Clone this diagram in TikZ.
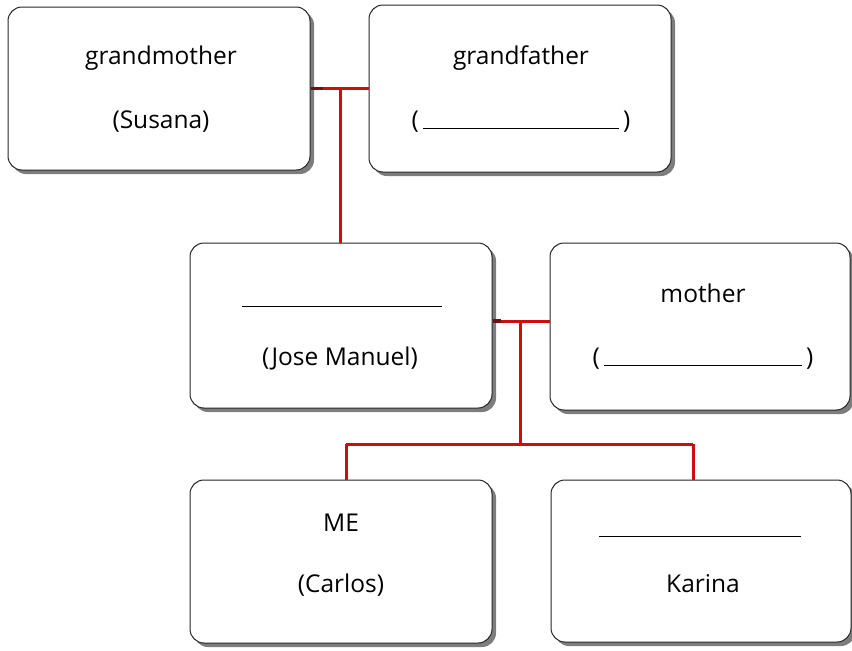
\documentclass[tikz,border=0pt]{standalone}
\usepackage{fontspec}
\setmainfont{Open Sans}
\usetikzlibrary{shadows}
\definecolor{linkred}{RGB}{208,12,12}
\definecolor{stubred}{RGB}{115,15,15}
\tikzset{
  famBox/.style={draw=black!85, line width=1pt, rounded corners=14pt, fill=white,
    inner sep=0pt, align=center,
    drop shadow={shadow xshift=4pt, shadow yshift=-4pt, opacity=0.6, fill=black!85}},
  famText/.style={font=\fontsize{24.5}{28}\selectfont, inner sep=0pt, anchor=base},
  link/.style={draw=linkred, line width=3pt},
  stub/.style={draw=stubred, line width=3.5pt},
}
\newcommand{\blankline}[1]{\rule[-1pt]{#1}{1.3pt}}
\begin{document}
\begin{tikzpicture}[x=1pt,y=-1pt]
\useasboundingbox (0,0) rectangle (852,651);
% boxes
\node[famBox, minimum width=302pt, minimum height=163pt] (gm) at (159,88.5) {};
\node[famBox, minimum width=302pt, minimum height=167pt] (gf) at (520,88.5) {};
\node[famBox, minimum width=302pt, minimum height=165pt] (jm) at (341,325.5) {};
\node[famBox, minimum width=300pt, minimum height=167pt] (mo) at (700,326.5) {};
\node[famBox, minimum width=302pt, minimum height=163pt] (me) at (341,561.5) {};
\node[famBox, minimum width=300pt, minimum height=162pt] (ka) at (701,561) {};
% texts
\node[famText] (gmA) at (161,64) {grandmother};
\node[famText] (gmB) at (161,128) {(Susana)};
\node[famText] (gfA) at (521,64) {grandfather};
\node[famText] (gfB) at (521,128) {(\,\blankline{196pt}\,)};
\node[famText] (jmA) at (342,306) {\blankline{200pt}};
\node[famText] (jmB) at (340,365) {(Jose Manuel)};
\node[famText] (moA) at (703,302) {mother};
\node[famText] (moB) at (703,365) {(\,\blankline{198pt}\,)};
\node[famText] (meA) at (341,531) {ME};
\node[famText] (meB) at (341,592) {(Carlos)};
\node[famText] (kaA) at (700,536) {\blankline{202pt}};
\node[famText] (kaB) at (703,592) {Karina};
% connectors
\coordinate (j1) at (340,88.5);
\coordinate (j2) at (520,321);
\coordinate (j3) at (520,444);
\coordinate (j4) at (346,444);
\coordinate (j5) at (693,444);
\draw[link] (gm.east) -- (gf.west);
\draw[link] (j1) -- (j1 |- jm.north);
\draw[link] (jm.east |- j2) -- (mo.west |- j2);
\draw[link] (j2) -- (j3);
\draw[link] (j4) -- (j5);
\draw[link] (j4) -- (j4 |- me.north);
\draw[link] (j5) -- (j5 |- ka.north);
\draw[stub] (gm.east) -- ++(12,0);
\draw[stub] (jm.east |- j2) -- ++(8,0);
\end{tikzpicture}
\end{document}
